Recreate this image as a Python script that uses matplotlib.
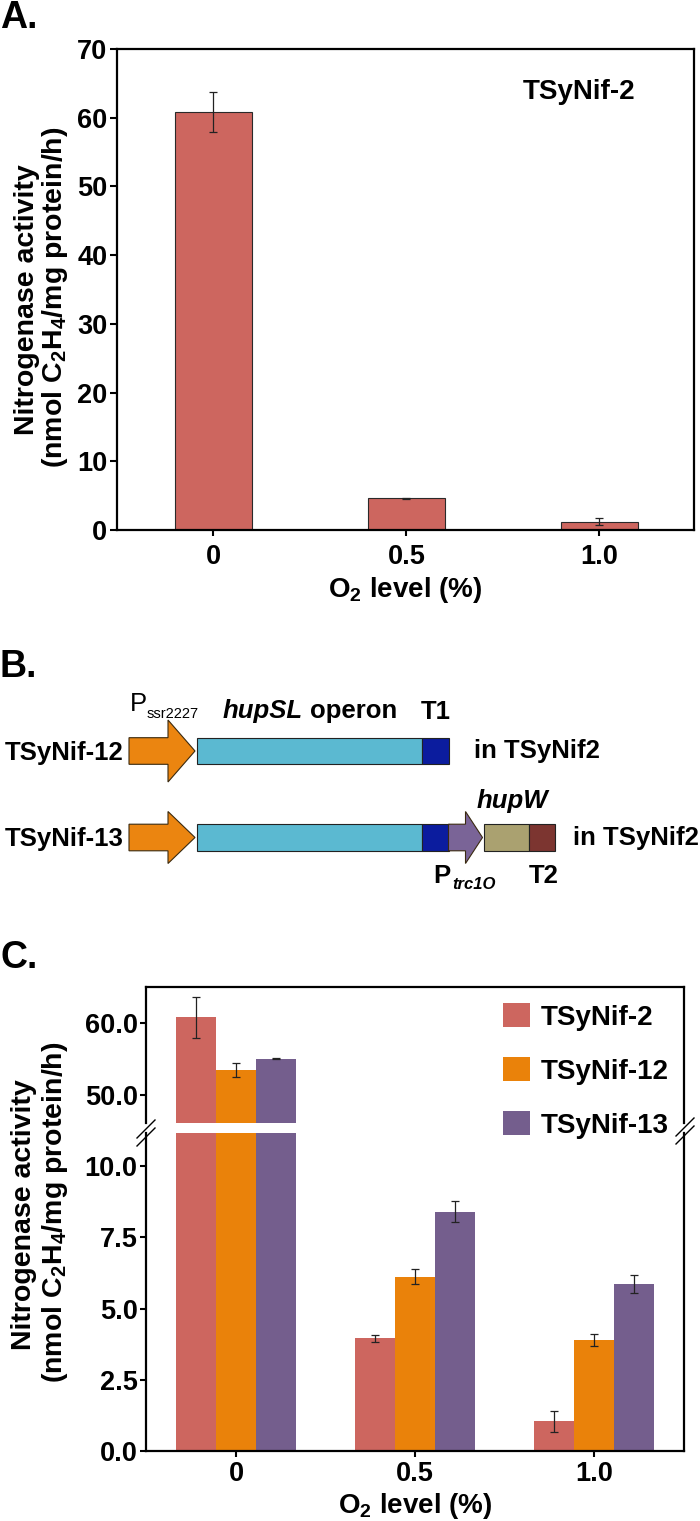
import matplotlib
matplotlib.use("Agg")
import matplotlib.pyplot as plt
import numpy as np
from matplotlib.patches import Rectangle, Polygon, Patch
from matplotlib.lines import Line2D

plt.rcParams['font.family'] = ['Liberation Sans', 'DejaVu Sans']
plt.rcParams['font.weight'] = 'bold'
plt.rcParams['mathtext.fontset'] = 'custom'
plt.rcParams['mathtext.rm'] = 'Liberation Sans:bold'
plt.rcParams['mathtext.it'] = 'Liberation Sans:bold:italic'
plt.rcParams['mathtext.bf'] = 'Liberation Sans:bold'
plt.rcParams['mathtext.default'] = 'rm'

# ---------------- data ----------------
o2_levels = ['0', '0.5', '1.0']

a_strain = 'TSyNif-2'
a_values = [60.8, 4.6, 1.2]
a_errors = [2.9, 0.1, 0.5]

strains = ['TSyNif-2', 'TSyNif-12', 'TSyNif-13']
c_tsynif2 = [60.8, 3.95, 1.05]
c_tsynif2_err = [2.85, 0.12, 0.37]
c_tsynif12 = [53.5, 6.12, 3.88]
c_tsynif12_err = [1.0, 0.25, 0.21]
c_tsynif13 = [55.05, 8.39, 5.86]
c_tsynif13_err = [0.05, 0.37, 0.33]

upper_ticks = [50.0, 60.0]
lower_ticks = [0.0, 2.5, 5.0, 7.5, 10.0]

# construct schematic (panel B): element kind, length (px), colour
construct_12 = [('arrow', 66, 'orange'), ('box', 225, 'cyan'), ('box', 27, 'navy')]
construct_13 = [('arrow', 66, 'orange'), ('box', 225, 'cyan'), ('box', 27, 'navy'),
                ('arrow', 34, 'purple'), ('box', 45, 'olive'), ('box', 26, 'darkred')]

# ---------------- style ----------------
RED = '#CD665F'
ORANGE = '#EA820A'
PURPLE = '#745E8D'
schem_colors = {'orange': '#EB8510', 'cyan': '#5BB9D1', 'navy': '#0B1C9E',
                'purple': '#7A6497', 'olive': '#AAA170', 'darkred': '#7C3530'}

W, H = 700, 1521
fig = plt.figure(figsize=(W / 100, H / 100), dpi=100)


def px_axes(left, top, right, bottom):
    return fig.add_axes([left / W, 1 - bottom / H, (right - left) / W, (bottom - top) / H])


def fx(x):
    return x / W


def fy(y):
    return 1 - y / H


TICK_FS = 19.5
LAB_FS = 20
YLAB_FS = 20.5
err_kw = dict(ecolor='#222222', elinewidth=0.9, capsize=3, capthick=0.9)

# ================= Panel A =================
axA = px_axes(117, 49, 694, 530)
x = np.arange(len(o2_levels))
axA.bar(x, a_values, 0.4, color=RED, edgecolor='#2a2a2a', linewidth=0.8,
        yerr=a_errors, error_kw=err_kw)
axA.set_xlim(-0.5, 2.49)
axA.set_ylim(0, 70)
axA.set_yticks(np.arange(0, 71, 10))
axA.set_xticks(x)
axA.set_xticklabels(o2_levels)
for s in axA.spines.values():
    s.set_linewidth(1.6)
axA.tick_params(axis='y', direction='out', length=5, width=1.5, labelsize=TICK_FS, pad=2)
axA.tick_params(axis='x', direction='out', length=4, width=1.5, labelsize=TICK_FS, pad=6)
axA.text(0.80, 0.91, a_strain, transform=axA.transAxes, ha='center', va='center',
         fontsize=20, fontweight='bold')
fig.text(fx(405), fy(597), 'O$_2$ level (%)', ha='center', va='baseline', fontsize=LAB_FS)
fig.text(fx(27), fy(300), 'Nitrogenase activity', rotation=90, ha='center', va='center',
         fontsize=YLAB_FS)
fig.text(fx(55), fy(297), '(nmol C$_2$H$_4$/mg protein/h)', rotation=90, ha='center',
         va='center', fontsize=YLAB_FS)
fig.text(fx(0), fy(18), 'A.', ha='left', va='center', fontsize=27)

# ================= Panel B =================
fig.text(fx(0), fy(667), 'B.', ha='left', va='center', fontsize=27)
axB = fig.add_axes([0, 1 - 900 / H, 1, 260 / H])
axB.set_xlim(0, W)
axB.set_ylim(900, 640)
axB.axis('off')


def draw_construct(ax, elems, x0, yc, head_half):
    xcur = x0
    shaft_half = 13.3
    for kind, length, cname in elems:
        col = schem_colors[cname]
        if kind == 'arrow':
            hl = min(27, length * 0.5)
            sx = xcur + length - hl
            pts = [(xcur, yc - shaft_half), (sx, yc - shaft_half), (sx, yc - head_half[cname]),
                   (xcur + length, yc), (sx, yc + head_half[cname]), (sx, yc + shaft_half),
                   (xcur, yc + shaft_half)]
            ax.add_patch(Polygon(pts, closed=True, facecolor=col, edgecolor='#3a2a10',
                                 linewidth=0.8))
            xcur += length + 1.5
        else:
            ax.add_patch(Rectangle((xcur, yc - shaft_half), length, 2 * shaft_half,
                                   facecolor=col, edgecolor='#222222', linewidth=0.8))
            xcur += length
    return xcur


draw_construct(axB, construct_12, 129, 751, {'orange': 31})
draw_construct(axB, construct_13, 129, 837.5, {'orange': 26, 'purple': 26})

BFS = 18.5
axB.text(5, 760, 'TSyNif-12', ha='left', va='baseline', fontsize=BFS)
axB.text(5, 846, 'TSyNif-13', ha='left', va='baseline', fontsize=BFS)
axB.text(474, 758, 'in TSyNif2', ha='left', va='baseline', fontsize=BFS)
axB.text(573, 845, 'in TSyNif2', ha='left', va='baseline', fontsize=BFS)
axB.text(130, 711, 'P', ha='left', va='baseline', fontsize=BFS, fontweight='normal')
axB.text(147, 718, 'ssr2227', ha='left', va='baseline', fontsize=10.5, fontweight='normal')
axB.text(223, 718, 'hupSL', ha='left', va='baseline', fontsize=BFS, style='italic')
axB.text(397, 718, 'operon', ha='right', va='baseline', fontsize=BFS)
axB.text(435.5, 719, 'T1', ha='center', va='baseline', fontsize=BFS)
axB.text(512, 808, 'hupW', ha='center', va='baseline', fontsize=BFS, style='italic')
axB.text(433, 883, 'P', ha='left', va='baseline', fontsize=BFS)
axB.text(452, 889, 'trc1O', ha='left', va='baseline', fontsize=12, style='italic')
axB.text(544, 883, 'T2', ha='center', va='baseline', fontsize=BFS)

# ================= Panel C =================
fig.text(fx(0), fy(958), 'C.', ha='left', va='center', fontsize=27)
axU = px_axes(146, 987, 684, 1123)
axL = px_axes(146, 1133, 684, 1451)
bw = 0.223
series = [(c_tsynif2, c_tsynif2_err, RED), (c_tsynif12, c_tsynif12_err, ORANGE),
          (c_tsynif13, c_tsynif13_err, PURPLE)]
for ax in (axU, axL):
    for i, (vals, errs, col) in enumerate(series):
        ax.bar(x + (i - 1) * bw, vals, bw, color=col, edgecolor='none',
               yerr=errs, error_kw=err_kw)
    ax.set_xlim(-0.503, 2.503)
    for s in ax.spines.values():
        s.set_linewidth(1.6)
    ax.tick_params(axis='y', direction='out', length=4, width=1.5, labelsize=TICK_FS, pad=2)

axU.set_ylim(46.1, 65.0)
axU.set_yticks(upper_ticks)
axU.set_yticklabels([f'{v:.1f}' for v in upper_ticks])
axU.spines['bottom'].set_visible(False)
axU.set_xticks([])

axL.set_ylim(0, 11.16)
axL.set_yticks(lower_ticks)
axL.set_yticklabels([f'{v:.1f}' for v in lower_ticks])
axL.spines['top'].set_visible(False)
axL.set_xticks(x)
axL.set_xticklabels(o2_levels)
axL.tick_params(axis='x', direction='out', length=4, width=1.5, labelsize=TICK_FS, pad=3)

# break marks
for cx, cy in ((146, 1133), (685, 1131)):
    for dy in (-4, 4):
        fig.add_artist(Line2D([fx(cx - 9), fx(cx + 9)], [fy(cy + dy + 9), fy(cy + dy - 9)],
                              color='black', linewidth=1.0))

handles = [Patch(facecolor=c, edgecolor='none') for _, _, c in series]
fig.legend(handles, strains, loc='upper left', bbox_to_anchor=(fx(503), fy(1003)),
           frameon=False, fontsize=20, handlelength=0.97, handleheight=0.97,
           handletextpad=0.4, labelspacing=0.95, borderpad=0, borderaxespad=0)

fig.text(fx(415), fy(1513), 'O$_2$ level (%)', ha='center', va='baseline', fontsize=LAB_FS)
fig.text(fx(24), fy(1215), 'Nitrogenase activity', rotation=90, ha='center', va='center',
         fontsize=YLAB_FS)
fig.text(fx(55), fy(1212), '(nmol C$_2$H$_4$/mg protein/h)', rotation=90, ha='center',
         va='center', fontsize=YLAB_FS)

fig.savefig('out.png', dpi=100)
